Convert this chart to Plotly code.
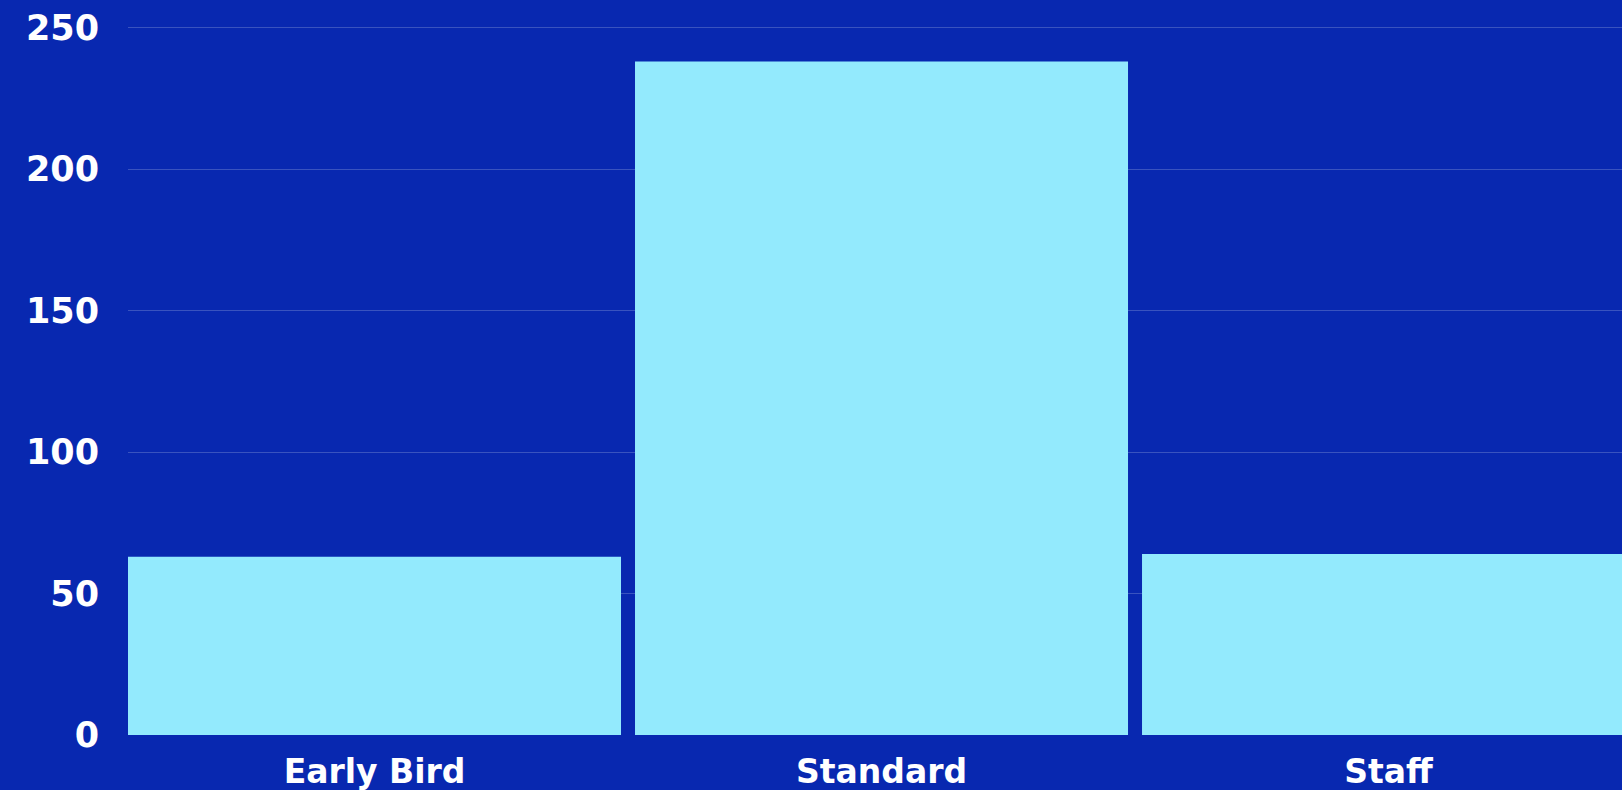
import plotly.graph_objects as go

categories = ["Early Bird", "Standard", "Staff"]
values = [63, 238, 64]
y_ticks = [0, 50, 100, 150, 200, 250]

BG = "#0828b0"
BAR = "#93eafd"
FONT = "DejaVu Sans"

fig = go.Figure(
    go.Bar(
        x=categories,
        y=values,
        marker=dict(color=BAR, line=dict(width=0)),
        hoverinfo="x+y",
    )
)

fig.update_layout(
    width=1622,
    height=790,
    paper_bgcolor=BG,
    plot_bgcolor=BG,
    margin=dict(l=128, r=0, t=22, b=55),
    bargap=0.0276,
    showlegend=False,
    font=dict(family=FONT, color="white"),
)

fig.update_xaxes(
    type="category",
    range=[-0.4862, 2.4605],
    showgrid=False,
    showline=False,
    zeroline=False,
    ticks="",
    ticklabelstandoff=14,
    tickfont=dict(family=FONT, size=33, color="white", weight="bold"),
)

fig.update_yaxes(
    range=[0, 252],
    tickvals=y_ticks,
    ticktext=[str(v) for v in y_ticks],
    showgrid=True,
    gridcolor="rgba(255,255,255,0.2)",
    gridwidth=1,
    zeroline=False,
    showline=False,
    ticks="",
    ticklabelstandoff=28,
    tickfont=dict(family=FONT, size=35, color="white", weight="bold"),
)

fig.write_html(
    "out.html",
    config={"displayModeBar": False},
    post_script="document.body.style.margin='0';document.body.style.overflow='hidden';document.body.style.background='%s';" % BG,
)
